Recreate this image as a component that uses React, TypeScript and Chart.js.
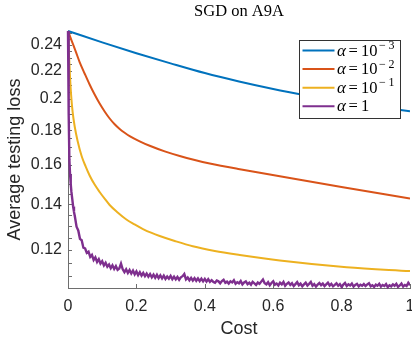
import React, { useEffect, useRef } from 'react';
import { Chart, registerables } from 'chart.js';

Chart.register(...registerables);

const seriesNames = ['α = 10⁻³', 'α = 10⁻²', 'α = 10⁻¹', 'α = 1'];
const legendBases = ['10', '10', '10', '1'];
const legendExponents = ['3', '2', '1', ''];
const seriesColors = ['#0072BD', '#D95319', '#EDB120', '#7E2F8E'];

const xTickValues = [0, 0.2, 0.4, 0.6, 0.8, 1];
const xTickLabels = ['0', '0.2', '0.4', '0.6', '0.8', '1'];
const yTickValues = [0.11, 0.115, 0.12, 0.125, 0.13, 0.135, 0.14, 0.145, 0.15, 0.155, 0.16, 0.165, 0.17, 0.175, 0.18, 0.185, 0.19, 0.195, 0.2, 0.205, 0.21, 0.215, 0.22, 0.225, 0.23, 0.235, 0.24, 0.245, 0.25];
const yMajorValues = [0.12, 0.14, 0.16, 0.18, 0.2, 0.22, 0.24];
const yMajorLabels = ['0.12', '0.14', '0.16', '0.18', '0.2', '0.22', '0.24'];
const yMin = 0.1055;
const yMax = 0.2517;

// alpha = 1e-3
const blueCost = [0, 0.1, 0.2, 0.3, 0.4, 0.5, 0.6, 0.7, 0.8, 0.9, 1.0];
const blueLoss = [0.2517, 0.2422, 0.2335, 0.2256, 0.2183, 0.2122, 0.2069, 0.2024, 0.1984, 0.1949, 0.1918];

// alpha = 1e-2
const orangeCost = [0, 0.0105, 0.0222, 0.034, 0.0486, 0.0632, 0.0779, 0.0925, 0.1071, 0.1218, 0.1364, 0.1511, 0.1657, 0.1803, 0.2096, 0.2389, 0.2828, 0.3267, 0.3706, 0.4145, 0.5023, 0.5902, 0.8039, 1.0];
const orangeLoss = [0.2517, 0.2437, 0.2352, 0.2266, 0.2180, 0.2100, 0.2030, 0.1969, 0.1917, 0.1872, 0.1836, 0.1807, 0.1784, 0.1764, 0.1733, 0.1707, 0.1675, 0.1649, 0.1627, 0.1608, 0.1577, 0.1549, 0.1483, 0.1428];

// alpha = 1e-1
const yellowCost = [0, 0.0032, 0.0061, 0.0091, 0.0135, 0.0193, 0.0281, 0.0398, 0.0515, 0.0632, 0.0779, 0.0925, 0.1101, 0.1218, 0.1452, 0.1707, 0.195, 0.2193, 0.2447, 0.2681, 0.3121, 0.3648, 0.4292, 0.5023, 0.6194, 0.8147, 1.0];
const yellowLoss = [0.2517, 0.2305, 0.2147, 0.2027, 0.1914, 0.1825, 0.1735, 0.1649, 0.1592, 0.1544, 0.1497, 0.1460, 0.1421, 0.1397, 0.1362, 0.1330, 0.1308, 0.1288, 0.1271, 0.1258, 0.1237, 0.1215, 0.1196, 0.1180, 0.1158, 0.1132, 0.1117];

// alpha = 1 (noisy)
const purpleCostEarly = [0, 0.002, 0.004, 0.006, 0.008, 0.01, 0.0125, 0.015, 0.0175];
const purpleLossEarly = [0.2517, 0.1900, 0.1630, 0.1550, 0.1500, 0.1460, 0.1425, 0.1390, 0.1365];
const purpleLossTail = [
  0.1345, 0.1298, 0.1282, 0.1246, 0.1240, 0.1209, 0.1206, 0.1188, 0.1193, 0.1172,
  0.1180, 0.1160, 0.1170, 0.1152, 0.1163, 0.1146, 0.1155, 0.1139, 0.1149, 0.1134,
  0.1142, 0.1128, 0.1139, 0.1125, 0.1136, 0.1122, 0.1127, 0.1146, 0.1124, 0.1113,
  0.1124, 0.1110, 0.1121, 0.1108, 0.1119, 0.1105, 0.1116, 0.1102, 0.1113, 0.1100,
  0.1110, 0.1098, 0.1108, 0.1096, 0.1106, 0.1094, 0.1104, 0.1092, 0.1103, 0.1091,
  0.1101, 0.1090, 0.1100, 0.1088, 0.1097, 0.1089, 0.1099, 0.1087, 0.1096, 0.1086,
  0.1095, 0.1085, 0.1094, 0.1098, 0.1106, 0.1086, 0.1093, 0.1083, 0.1092, 0.1082,
  0.1091, 0.1081, 0.1090, 0.1080, 0.1089, 0.1079, 0.1088, 0.1078, 0.1087, 0.1077,
  0.1083, 0.1077, 0.1074, 0.1082, 0.1079, 0.1072, 0.1080, 0.1085, 0.1074, 0.1078,
  0.1071, 0.1079, 0.1075, 0.1083, 0.1070, 0.1076, 0.1072, 0.1080, 0.1068, 0.1075,
  0.1079, 0.1069, 0.1074, 0.1067, 0.1077, 0.1072, 0.1066, 0.1075, 0.1070, 0.1078,
  0.1086, 0.1072, 0.1068, 0.1076, 0.1065, 0.1073, 0.1079, 0.1067, 0.1071, 0.1064,
  0.1074, 0.1068, 0.1077, 0.1063, 0.1070, 0.1075, 0.1066, 0.1072, 0.1062, 0.1069,
  0.1076, 0.1065, 0.1071, 0.1061, 0.1068, 0.1074, 0.1064, 0.1070, 0.1077, 0.1063,
  0.1069, 0.1060, 0.1067, 0.1073, 0.1065, 0.1071, 0.1062, 0.1068, 0.1074, 0.1064,
  0.1070, 0.1061, 0.1066, 0.1072, 0.1063, 0.1069, 0.1059, 0.1067, 0.1073, 0.1062,
  0.1068, 0.1064, 0.1071, 0.1060, 0.1066, 0.1070, 0.1061, 0.1067, 0.1063, 0.1069,
  0.1062, 0.1068, 0.1072, 0.1061, 0.1065, 0.1059, 0.1067, 0.1063, 0.1070, 0.1060,
  0.1066, 0.1062, 0.1069, 0.1058, 0.1065, 0.1061, 0.1068, 0.1063, 0.1070, 0.1059,
  0.1064, 0.1071, 0.1060, 0.1066, 0.1062, 0.1074, 0.1065,
];
// sampling grid of the noisy run: every 0.005 from 0.02 to 1
const purpleCostTail = purpleLossTail.map((_, i) => Math.round((0.02 + i * 0.005) * 1000) / 1000);

const purpleCost = [...purpleCostEarly, ...purpleCostTail];
const purpleLoss = [...purpleLossEarly, ...purpleLossTail];

const toPoints = (xs: number[], ys: number[]) => xs.map((x, i) => ({ x, y: ys[i] }));

const AXIS_COLOR = '#6e6e6e';
const TEXT_COLOR = '#262626';
const SANS = '"Liberation Sans", Arial, sans-serif';
const SERIF = '"Liberation Serif", "Times New Roman", serif';

const inwardTicks = {
  id: 'inwardTicks',
  beforeDatasetsDraw(chart: any) {
    const { ctx, chartArea, scales } = chart;
    ctx.save();
    ctx.strokeStyle = AXIS_COLOR;
    ctx.lineWidth = 1;
    ctx.beginPath();
    scales.y.ticks.forEach((t: any) => {
      const py = Math.round(scales.y.getPixelForValue(t.value)) + 0.5;
      ctx.moveTo(chartArea.left, py);
      ctx.lineTo(chartArea.left + 4, py);
    });
    scales.x.ticks.forEach((t: any) => {
      const px = Math.round(scales.x.getPixelForValue(t.value)) + 0.5;
      ctx.moveTo(px, chartArea.bottom);
      ctx.lineTo(px, chartArea.bottom - 4);
    });
    ctx.stroke();
    ctx.restore();
  },
};

const mathLegend = {
  id: 'mathLegend',
  afterDraw(chart: any) {
    const { ctx, chartArea } = chart;
    const w = 101;
    const h = 78;
    const x0 = Math.round(chartArea.right - 111) + 0.5;
    const y0 = Math.round(chartArea.top + 9) + 0.5;
    ctx.save();
    ctx.fillStyle = '#ffffff';
    ctx.fillRect(x0, y0, w, h);
    ctx.strokeStyle = '#333333';
    ctx.lineWidth = 1;
    ctx.strokeRect(x0, y0, w, h);
    chart.data.datasets.forEach((ds: any, i: number) => {
      const yc = y0 + 10 + i * 18.6;
      ctx.strokeStyle = ds.borderColor;
      ctx.lineWidth = 2;
      ctx.beginPath();
      ctx.moveTo(x0 + 3, yc);
      ctx.lineTo(x0 + 35, yc);
      ctx.stroke();
      const base = yc + 5;
      ctx.fillStyle = '#000';
      ctx.textAlign = 'left';
      ctx.textBaseline = 'alphabetic';
      ctx.font = `italic 17px ${SERIF}`;
      ctx.fillText('α', x0 + 37.5, base);
      ctx.font = `16.5px ${SERIF}`;
      ctx.fillText('=', x0 + 49, base);
      ctx.fillText(legendBases[i], x0 + 61.5, base);
      if (legendExponents[i]) {
        const bw = ctx.measureText(legendBases[i]).width;
        const ex = x0 + 61.5 + bw + 1.5;
        ctx.font = `12px ${SERIF}`;
        ctx.fillText('−', ex, base - 6.5);
        ctx.fillText(legendExponents[i], ex + 9.5, base - 6.5);
      }
    });
    ctx.restore();
  },
};

export default function App() {
  const canvasRef = useRef<HTMLCanvasElement | null>(null);

  useEffect(() => {
    if (!canvasRef.current) return;
    const common = { pointRadius: 0, borderWidth: 2, fill: false, clip: { left: 3, top: 3, right: 0, bottom: 3 } };
    const chart = new Chart(canvasRef.current, {
      type: 'line',
      data: {
        datasets: [
          { ...common, label: seriesNames[0], data: toPoints(blueCost, blueLoss), borderColor: seriesColors[0], cubicInterpolationMode: 'monotone', order: 3 },
          { ...common, label: seriesNames[1], data: toPoints(orangeCost, orangeLoss), borderColor: seriesColors[1], cubicInterpolationMode: 'monotone', order: 2 },
          { ...common, label: seriesNames[2], data: toPoints(yellowCost, yellowLoss), borderColor: seriesColors[2], cubicInterpolationMode: 'monotone', order: 1 },
          { ...common, label: seriesNames[3], data: toPoints(purpleCost, purpleLoss), borderColor: seriesColors[3], borderWidth: 2.4, tension: 0, order: 0 },
        ] as any,
      },
      options: {
        animation: false,
        responsive: false,
        events: [],
        layout: { padding: 0 },
        plugins: {
          legend: { display: false },
          tooltip: { enabled: false },
          title: {
            display: true,
            fullSize: false,
            text: 'SGD on A9A',
            color: '#000',
            font: { family: SERIF, size: 16.5, weight: 'normal', lineHeight: 1.2 },
            padding: { top: 2, bottom: 9.2 },
          },
        },
        scales: {
          x: {
            type: 'linear',
            min: 0,
            max: 1,
            afterBuildTicks: (s: any) => {
              s.ticks = xTickValues.map((v) => ({ value: v }));
            },
            afterFit: (s: any) => {
              s.height = 49;
              s.paddingLeft = 0;
              s.paddingRight = 2;
            },
            ticks: {
              autoSkip: false,
              maxRotation: 0,
              padding: 9,
              color: TEXT_COLOR,
              font: { family: SANS, size: 16 },
              callback: (_v: any, i: number) => xTickLabels[i],
            },
            grid: { display: false, drawTicks: false },
            border: { display: true, color: AXIS_COLOR, width: 1 },
            title: {
              display: true,
              text: 'Cost',
              color: TEXT_COLOR,
              font: { family: SANS, size: 18, lineHeight: 0.87 },
              padding: 0,
            },
          },
          y: {
            type: 'logarithmic',
            min: yMin,
            max: yMax,
            bounds: 'data',
            afterBuildTicks: (s: any) => {
              s.ticks = yTickValues.map((v) => ({ value: v }));
            },
            afterFit: (s: any) => {
              s.width = 68;
              s.paddingTop = 0;
              s.paddingBottom = 0;
            },
            ticks: {
              autoSkip: false,
              padding: 6,
              color: TEXT_COLOR,
              font: { family: SANS, size: 16 },
              callback: (v: any) => {
                const k = yMajorValues.findIndex((m) => Math.abs(m - Number(v)) < 1e-9);
                return k >= 0 ? yMajorLabels[k] : '';
              },
            },
            grid: { display: false, drawTicks: false },
            border: { display: true, color: AXIS_COLOR, width: 1 },
            title: {
              display: true,
              text: 'Average testing loss',
              color: TEXT_COLOR,
              font: { family: SANS, size: 18, lineHeight: 1.2 },
              padding: { top: 4, bottom: 0 },
            },
          },
        },
      } as any,
      plugins: [inwardTicks, mathLegend],
    });
    return () => chart.destroy();
  }, []);

  return (
    <div style={{ position: 'fixed', left: 0, top: 0, width: 412, height: 337, background: '#fff' }}>
      <canvas ref={canvasRef} width={412} height={337} style={{ display: 'block' }} />
    </div>
  );
}
